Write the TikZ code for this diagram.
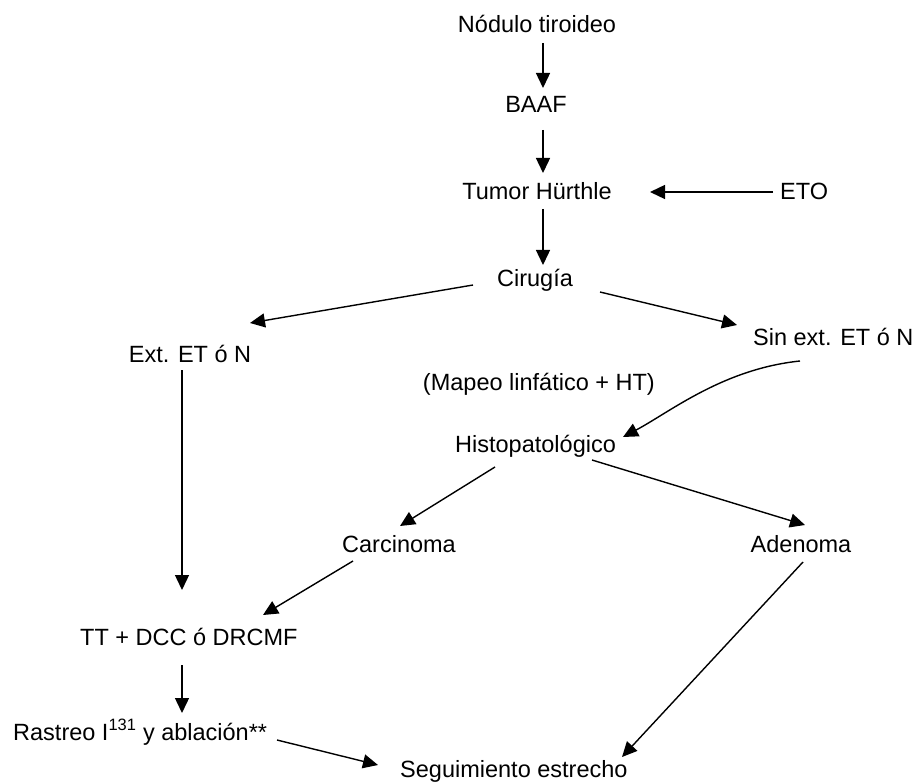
\documentclass[tikz,border=0pt]{standalone}
\usepackage{fontspec}
\setmainfont{Liberation Sans}
\usetikzlibrary{arrows.meta}
\begin{document}
\begin{tikzpicture}[x=1pt,y=-1pt,
  lbl/.style={inner sep=0pt,font=\fontsize{23.5}{28}\selectfont},
  arr/.style={line width=1.4pt,-{Triangle[length=15pt,width=14pt]}}]
\useasboundingbox[fill=white] (0,0) rectangle (912,783);
\node[lbl,anchor=base] (nod) at (537,33) {Nódulo tiroideo};
\node[lbl,anchor=base] (baaf) at (536,113) {BAAF};
\node[lbl,anchor=base] (tum) at (537,200) {Tumor Hürthle};
\node[lbl,anchor=base west] (eto) at (780,200) {ETO};
\node[lbl,anchor=base] (cir) at (535,287) {Cirugía};
\node[lbl,anchor=base] (ext) at (190,362) {Ext. ET ó N};
\node[lbl,anchor=base west] (sin) at (753,345) {Sin ext. ET ó N};
\node[lbl,anchor=base east] (map) at (655,390) {(Mapeo linfático + HT)};
\node[lbl,anchor=base west] (his) at (455,452) {Histopatológico};
\node[lbl,anchor=base west] (car) at (342,552) {Carcinoma};
\node[lbl,anchor=base] (ade) at (801,552) {Adenoma};
\node[lbl,anchor=base west] (tt) at (80,645) {TT + DCC ó DRCMF};
\node[lbl,anchor=base west] (ras) at (13,740) {Rastreo I\textsuperscript{131} y ablación**};
\node[lbl,anchor=base west] (seg) at (400,777) {Seguimiento estrecho};

\draw[arr] ([shift={(6,10)}]nod.base) -- ([shift={(7,-25)}]baaf.base);
\draw[arr] ([shift={(7,17)}]baaf.base) -- ([shift={(6,-27)}]tum.base);
\draw[arr] ([shift={(6,9)}]tum.base) -- ([shift={(8,-22)}]cir.base);
\draw[arr] ([shift={(-7,-8)}]eto.base west) -- ([shift={(113,-8)}]tum.base);
\draw[arr] ([shift={(-62,-2)}]cir.base) -- ([shift={(60,-39)}]ext.base);
\draw[arr] ([shift={(65,5)}]cir.base) -- ([shift={(-16,-20)}]sin.base west);
\draw[arr] ([shift={(47,16)}]sin.base west) .. controls ([shift={(-30,24)}]sin.base west) and ([shift={(215,-40)}]his.base west) .. ([shift={(168,-15)}]his.base west);
\draw[arr] ([shift={(40,15)}]his.base west) -- ([shift={(58,-26)}]car.base west);
\draw[arr] ([shift={(137,8)}]his.base west) -- ([shift={(4,-27)}]ade.base);
\draw[arr] ([shift={(-8,8)}]ext.base) -- ([shift={(102,-55)}]tt.base west);
\draw[arr] ([shift={(11,9)}]car.base west) -- ([shift={(183,-30)}]tt.base west);
\draw[arr] ([shift={(102,20)}]tt.base west) -- ([shift={(169,-27)}]ras.base west);
\draw[arr] ([shift={(264,0)}]ras.base west) -- ([shift={(-22,-12)}]seg.base west);
\draw[arr] ([shift={(2,10)}]ade.base) -- ([shift={(222,-20)}]seg.base west);
\end{tikzpicture}
\end{document}
